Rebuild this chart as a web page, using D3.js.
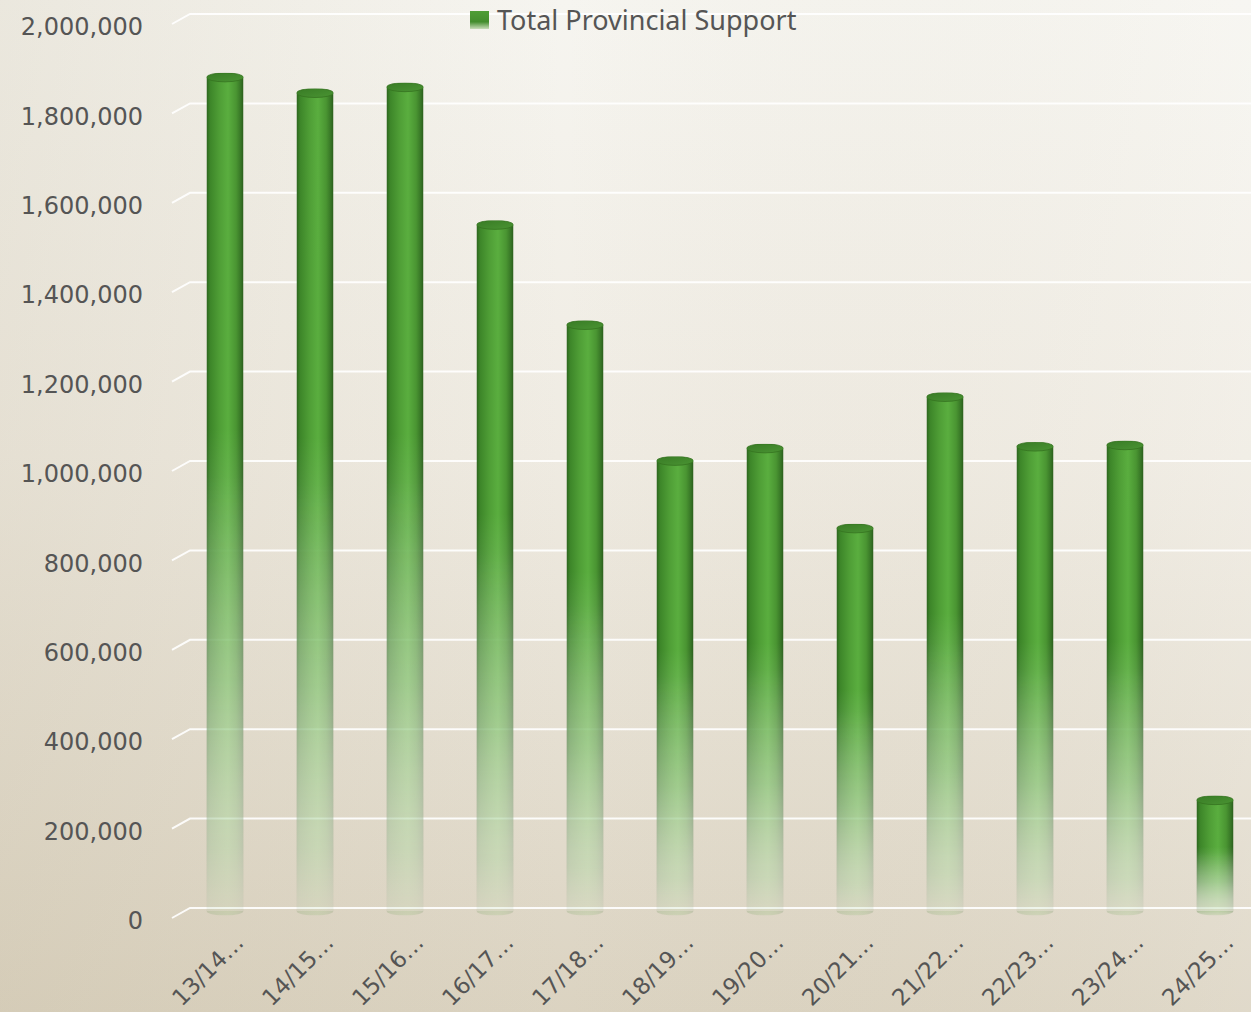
<!DOCTYPE html>
<html>
<head>
<meta charset="utf-8">
<script src="https://cdn.jsdelivr.net/npm/d3@7"></script>
<style>
  body { margin: 0; overflow: hidden; }
  text { font-family: "DejaVu Sans", sans-serif; fill: #555; }
</style>
</head>
<body>
<svg width="1251" height="1012"></svg>
<script>
// chart data
var categories = ["13/14…", "14/15…", "15/16…", "16/17…", "17/18…", "18/19…",
                  "19/20…", "20/21…", "21/22…", "22/23…", "23/24…", "24/25…"];
var support = [1865000, 1830000, 1843000, 1535000, 1311000, 1007000,
               1035000, 856000, 1150000, 1039000, 1042000, 248000];
var yTicks = [0, 200000, 400000, 600000, 800000, 1000000, 1200000,
              1400000, 1600000, 1800000, 2000000];
var seriesName = "Total Provincial Support";

var svg = d3.select("svg"),
    width = +svg.attr("width"),
    height = +svg.attr("height");

var defs = svg.append("defs");

// background
var bg = defs.append("linearGradient").attr("id", "bg")
    .attr("x1", 0).attr("y1", 0).attr("x2", 0).attr("y2", 1);
bg.append("stop").attr("offset", "0%").attr("stop-color", "#f6f5f0");
bg.append("stop").attr("offset", "45%").attr("stop-color", "#efebe2");
bg.append("stop").attr("offset", "100%").attr("stop-color", "#dbd3c1");

var bgSide = defs.append("linearGradient").attr("id", "bgSide")
    .attr("x1", 0).attr("y1", 0).attr("x2", 1).attr("y2", 0);
bgSide.append("stop").attr("offset", "0%").attr("stop-color", "#b8ab8c").attr("stop-opacity", 0.18);
bgSide.append("stop").attr("offset", "45%").attr("stop-color", "#b8ab8c").attr("stop-opacity", 0);
bgSide.append("stop").attr("offset", "100%").attr("stop-color", "#ffffff").attr("stop-opacity", 0.15);

svg.append("rect").attr("width", width).attr("height", height).attr("fill", "url(#bg)");
svg.append("rect").attr("width", width).attr("height", height).attr("fill", "url(#bgSide)");

// cylinder shading
var body = defs.append("linearGradient").attr("id", "body")
    .attr("x1", 0).attr("y1", 0).attr("x2", 1).attr("y2", 0);
[["0%", "#2c641e"], ["10%", "#3d8629"], ["35%", "#4f9e36"], ["58%", "#5aae3f"],
 ["80%", "#4a9532"], ["93%", "#377526"], ["100%", "#2a5d1c"]].forEach(function(s) {
  body.append("stop").attr("offset", s[0]).attr("stop-color", s[1]);
});
var cap = defs.append("linearGradient").attr("id", "cap")
    .attr("x1", 0).attr("y1", 0).attr("x2", 1).attr("y2", 1);
cap.append("stop").attr("offset", "0%").attr("stop-color", "#387b25");
cap.append("stop").attr("offset", "100%").attr("stop-color", "#4a9433");

// lower part of the cylinder washes out to pale green
var wash = defs.append("linearGradient").attr("id", "wash")
    .attr("x1", 0).attr("y1", 0).attr("x2", 0).attr("y2", 1);
[["0%", 0], ["42%", 0], ["70%", 0.3], ["90%", 0.5], ["100%", 0.55]].forEach(function(s) {
  wash.append("stop").attr("offset", s[0]).attr("stop-color", "#ffffff").attr("stop-opacity", s[1]);
});

// vertical fade towards the floor
var fade = defs.append("linearGradient").attr("id", "fade")
    .attr("x1", 0).attr("y1", 0).attr("x2", 0).attr("y2", 1);
[["0%", 1], ["48%", 1], ["72%", 0.8], ["92%", 0.45], ["100%", 0.12]].forEach(function(s) {
  fade.append("stop").attr("offset", s[0]).attr("stop-color", "#fff").attr("stop-opacity", s[1]);
});
defs.append("mask").attr("id", "fadeMask")
    .attr("maskContentUnits", "objectBoundingBox")
    .append("rect").attr("width", 1).attr("height", 1).attr("fill", "url(#fade)");

var legendFill = defs.append("linearGradient").attr("id", "legendFill")
    .attr("x1", 0).attr("y1", 0).attr("x2", 0).attr("y2", 1);
legendFill.append("stop").attr("offset", "0%").attr("stop-color", "#4f9e36");
legendFill.append("stop").attr("offset", "60%").attr("stop-color", "#448d2e");
legendFill.append("stop").attr("offset", "100%").attr("stop-color", "#c8dcb8");

// scales
var x = d3.scaleBand().domain(categories).range([180, 1260]);
var y = d3.scaleLinear().domain([0, 2000000]).range([908, 14]);

var depthX = 18, depthY = 10;

// gridlines with 3D floor stub
svg.append("g").selectAll("path")
   .data(yTicks)
   .enter().append("path")
   .attr("d", function(d) {
     return "M" + (190 - depthX) + "," + (y(d) + depthY) + "L190," + y(d) + "H" + width;
   })
   .attr("fill", "none")
   .attr("stroke", "#ffffff")
   .attr("stroke-opacity", 0.9)
   .attr("stroke-width", 2);

// y axis labels
var yAxis = svg.append("g")
   .attr("transform", "translate(172,0)")
   .call(d3.axisLeft(y).tickValues(yTicks).tickFormat(d3.format(",")).tickSize(0).tickPadding(29));
yAxis.select(".domain").remove();
yAxis.selectAll("text")
   .attr("y", 13)
   .style("font-size", "24px")
   .style("fill", "#555")
   .style("font-family", "DejaVu Sans, sans-serif");

// x axis labels
var xAxis = svg.append("g")
   .call(d3.axisBottom(x).tickSize(0));
xAxis.select(".domain").remove();
xAxis.selectAll(".tick").attr("transform", function(d) {
  return "translate(" + (x(d) + x.bandwidth() / 2 + 20) + ",944)";
});
xAxis.selectAll("text")
   .attr("y", 0).attr("dy", 0)
   .attr("transform", "rotate(-45)")
   .style("text-anchor", "end")
   .style("font-size", "23px")
   .style("fill", "#555")
   .style("font-family", "DejaVu Sans, sans-serif");

// cylinders
var barW = 37, ry = 4.5, depthShift = 3;
var cx = function(d, i) { return x(categories[i]) + x.bandwidth() / 2; };

var bars = svg.append("g").selectAll(".bar")
   .data(support)
   .enter().append("g")
   .attr("class", "bar")
   .attr("mask", "url(#fadeMask)");

bars.append("ellipse")
   .attr("cx", cx)
   .attr("cy", y(0) + depthShift)
   .attr("rx", barW / 2).attr("ry", ry)
   .attr("fill", "url(#body)");

bars.append("rect")
   .attr("x", function(d, i) { return cx(d, i) - barW / 2; })
   .attr("y", function(d) { return y(d) + depthShift; })
   .attr("width", barW)
   .attr("height", function(d) { return y(0) - y(d); })
   .attr("fill", "url(#body)");

bars.append("rect")
   .attr("x", function(d, i) { return cx(d, i) - barW / 2; })
   .attr("y", function(d) { return y(d) + depthShift; })
   .attr("width", barW)
   .attr("height", function(d) { return y(0) - y(d); })
   .attr("fill", "url(#wash)");

bars.append("ellipse")
   .attr("cx", cx)
   .attr("cy", function(d) { return y(d) + depthShift; })
   .attr("rx", barW / 2).attr("ry", ry)
   .attr("fill", "url(#cap)")
   .attr("stroke", "#35721f")
   .attr("stroke-width", 0.8);

// legend
var legend = svg.append("g").attr("transform", "translate(470,11)");
legend.append("rect").attr("width", 19).attr("height", 18).attr("fill", "url(#legendFill)");
legend.append("text")
   .attr("x", 27).attr("y", 19)
   .style("font-size", "27px")
   .style("font-family", "Noto Sans, sans-serif")
   .text(seriesName);
</script>
</body>
</html>
